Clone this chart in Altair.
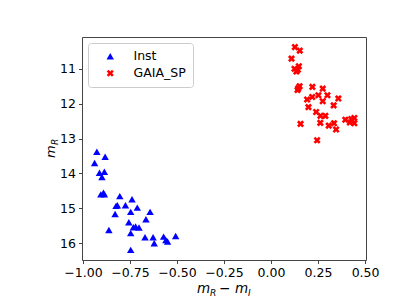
import altair as alt
import pandas as pd

# Data
series_names = ["Inst", "GAIA_SP"]
inst_color = [-0.926, -0.938, -0.882, -0.912, -0.886, -0.899, -0.905, -0.891, -0.886,
              -0.804, -0.739, -0.824, -0.817, -0.774, -0.711, -0.829, -0.746, -0.643,
              -0.665, -0.756, -0.732, -0.720, -0.702, -0.862, -0.746, -0.670, -0.627,
              -0.621, -0.571, -0.559, -0.550, -0.507, -0.746]
inst_mag = [13.38, 13.70, 13.52, 13.98, 13.95, 14.10, 14.60, 14.55, 14.60,
            14.65, 14.74, 14.93, 14.91, 14.91, 14.98, 15.16, 15.10, 15.10,
            15.31, 15.40, 15.54, 15.52, 15.55, 15.62, 15.71, 15.83, 15.83,
            16.00, 15.81, 15.91, 15.95, 15.79, 16.19]
gaia_color = [0.127, 0.153, 0.109, 0.125, 0.148, 0.143, 0.135, 0.152, 0.145, 0.141,
              0.220, 0.275, 0.252, 0.300, 0.219, 0.192, 0.275, 0.358, 0.199, 0.333,
              0.240, 0.263, 0.289, 0.262, 0.157, 0.307, 0.335, 0.346, 0.395, 0.419,
              0.443, 0.443, 0.427, 0.245]
gaia_mag = [10.38, 10.48, 10.71, 11.00, 10.93, 11.03, 11.08, 11.50, 11.56, 11.61,
            11.52, 11.57, 11.76, 11.76, 11.81, 11.88, 11.93, 11.85, 12.10, 12.05,
            12.24, 12.35, 12.35, 12.55, 12.58, 12.63, 12.56, 12.74, 12.46, 12.54,
            12.41, 12.56, 12.44, 13.05]
x_ticks = [-1.0, -0.75, -0.5, -0.25, 0.0, 0.25, 0.5]
y_ticks = [11, 12, 13, 14, 15, 16]

df = pd.DataFrame({
    "color": inst_color + gaia_color,
    "mag": inst_mag + gaia_mag,
    "source": [series_names[0]] * len(inst_color) + [series_names[1]] * len(gaia_color),
})

X_PATH = ("M-0.46,0.955L0,0.495L0.46,0.955L0.955,0.46L0.495,0L0.955,-0.46L0.46,-0.955"
          "L0,-0.495L-0.46,-0.955L-0.955,-0.46L-0.495,0L-0.955,0.46Z")

FONT = "DejaVu Sans"
W, H = 284, 223

points = alt.Chart(df).mark_point(filled=True, opacity=1, size=55).encode(
    x=alt.X("color:Q",
            scale=alt.Scale(domain=[-1.005, 0.505], nice=False, zero=False),
            axis=alt.Axis(values=x_ticks, title=None, grid=False, domain=False,
                          labelOverlap=False, labelFlush=False,
                          labelExpr="replace(format(datum.value, '.2f'), '-', '\u2212')")),
    y=alt.Y("mag:Q",
            scale=alt.Scale(domain=[10.09, 16.48], nice=False, zero=False, reverse=True),
            axis=alt.Axis(values=y_ticks, title=None, grid=False, domain=False,
                          labelOverlap=False, format="d")),
    color=alt.Color("source:N",
                    scale=alt.Scale(domain=series_names, range=["#0000ff", "#ff0000"]),
                    legend=alt.Legend(title=None, orient="none", legendX=6, legendY=6)),
    shape=alt.Shape("source:N",
                    scale=alt.Scale(domain=series_names, range=["triangle-up", X_PATH]),
                    legend=alt.Legend(title=None, orient="none", legendX=6, legendY=6)),
    order=alt.Order("source:N", sort="descending"),
)

one = pd.DataFrame({"k": [0]})

def txt(s, x, y, size, angle=0, italic=True):
    return alt.Chart(one).mark_text(
        align="left", baseline="alphabetic", font=FONT, fontSize=size,
        fontStyle="italic" if italic else "normal", angle=angle, color="black"
    ).encode(x=alt.value(x), y=alt.value(y), text=alt.value(s))

# x-axis title: m_R - m_I  (coordinates relative to plot area)
xt = [
    txt("m", 115, 256, 13.5),
    txt("R", 128, 259, 9),
    txt("\u2212", 137, 256, 13.5, italic=False),
    txt("m", 153, 256, 13.5),
    txt("I", 166, 259, 9),
]
# y-axis title: m_R rotated
yt = [
    txt("m", -27, 121, 13, angle=270),
    txt("R", -24, 108, 9, angle=270),
]

chart = alt.layer(points, *xt, *yt).properties(
    width=W, height=H,
    autosize=alt.AutoSizeParams(type="none"),
    padding={"left": 74, "top": 29, "right": 30, "bottom": 38},
).configure_view(
    stroke="#444", strokeWidth=1
).configure_axis(
    labelFont=FONT, labelFontSize=12.5, labelColor="black",
    tickColor="#444", tickSize=3.5, labelPadding=3,
).configure_legend(
    labelFont=FONT, labelFontSize=12.5, labelColor="black",
    fillColor="white", strokeColor="#cccccc", cornerRadius=3, padding=7,
    symbolOffset=9, labelOffset=17, rowPadding=4, symbolSize=55,
    symbolStrokeWidth=0,
)

chart.save("out.html", embed_options={"renderer": "svg", "actions": False})
